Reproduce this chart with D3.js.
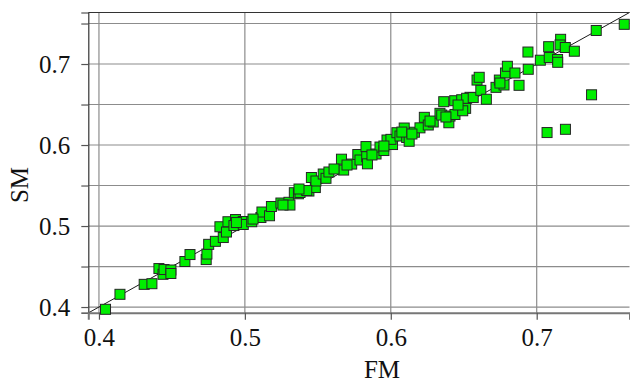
<!DOCTYPE html>
<html>
<head>
<meta charset="utf-8">
<script src="https://cdn.jsdelivr.net/npm/d3@7"></script>
<style>
  html, body { margin: 0; padding: 0; background: #fff; }
  svg { display: block; }
  text { font-family: "Liberation Serif", "Times New Roman", serif; fill: #111; }
</style>
</head>
<body>
<svg id="chart" width="630" height="383"></svg>
<script>
// FM vs SM measurements
const fm = [
  0.4045, 0.4144, 0.4310, 0.4363, 0.4411, 0.4439, 0.4446, 0.4493, 0.4493, 0.4589,
  0.4624, 0.4735, 0.4740, 0.4752, 0.4798, 0.4852, 0.4829, 0.4874, 0.4884, 0.4936,
  0.4925, 0.4989, 0.4989, 0.5047, 0.5110, 0.5117, 0.5169, 0.5182, 0.5247, 0.5302,
  0.5309, 0.5339, 0.5367, 0.5439, 0.5483, 0.5456, 0.5487, 0.5378, 0.5424, 0.5537,
  0.5556, 0.5576, 0.5662, 0.5677, 0.5732, 0.5774, 0.5789, 0.5830, 0.5835, 0.5840,
  0.5899, 0.5926, 0.5953, 0.5974, 0.6012, 0.6001, 0.6042, 0.6063, 0.6092, 0.6109,
  0.6126, 0.6162, 0.6200, 0.6230, 0.6257, 0.6291, 0.6337, 0.6349, 0.6363, 0.6398,
  0.6406, 0.6440, 0.6438, 0.6486, 0.6543, 0.6513, 0.6493, 0.6520, 0.6565, 0.6591,
  0.6606, 0.6617, 0.6655, 0.6721, 0.6744, 0.6776, 0.6786, 0.6799, 0.6851, 0.6879,
  0.6942, 0.6940, 0.7025, 0.7082, 0.7086, 0.7143, 0.7144, 0.7164, 0.7160, 0.7196,
  0.7258, 0.7408, 0.7600, 0.7376, 0.7071, 0.7197, 0.4942, 0.5056, 0.5261, 0.5371,
  0.5611, 0.5700, 0.5871, 0.5953, 0.6076, 0.6145, 0.6269, 0.6378, 0.6461, 0.6748
];
const sm = [
  0.3972, 0.4157, 0.4280, 0.4288, 0.4475, 0.4404, 0.4463, 0.4457, 0.4414, 0.4562,
  0.4648, 0.4586, 0.4654, 0.4774, 0.4811, 0.4858, 0.4991, 0.4926, 0.5053, 0.5080,
  0.5006, 0.5056, 0.5019, 0.5053, 0.5105, 0.5173, 0.5127, 0.5241, 0.5284, 0.5293,
  0.5259, 0.5411, 0.5398, 0.5432, 0.5475, 0.5599, 0.5556, 0.5414, 0.5438, 0.5642,
  0.5589, 0.5667, 0.5825, 0.5691, 0.5765, 0.5883, 0.5815, 0.5981, 0.5856, 0.5768,
  0.5889, 0.5975, 0.5932, 0.6062, 0.6006, 0.6070, 0.6152, 0.6111, 0.6210, 0.6093,
  0.6046, 0.6158, 0.6212, 0.6342, 0.6247, 0.6284, 0.6391, 0.6370, 0.6535, 0.6275,
  0.6358, 0.6377, 0.6547, 0.6559, 0.6589, 0.6453, 0.6423, 0.6577, 0.6586, 0.6802,
  0.6836, 0.6675, 0.6565, 0.6712, 0.6802, 0.6741, 0.6889, 0.6972, 0.6889, 0.6737,
  0.6935, 0.7148, 0.7047, 0.7214, 0.7080, 0.7056, 0.7021, 0.7305, 0.7235, 0.7204,
  0.7158, 0.7414, 0.7490, 0.6620, 0.6154, 0.6194, 0.5043, 0.5086, 0.5259, 0.5457,
  0.5704, 0.5753, 0.5877, 0.5988, 0.6160, 0.6136, 0.6296, 0.6346, 0.6494, 0.6765
];

const xTicks = [0.4, 0.5, 0.6, 0.7];
const yTicks = [0.4, 0.45, 0.5, 0.55, 0.6, 0.65, 0.7, 0.75];
const yLabelTicks = [0.4, 0.5, 0.6, 0.7];
const xTitle = "FM";
const yTitle = "SM";

const svg = d3.select("#chart");
const plotLeft = 88.3, plotRight = 629.5, plotTop = 12.5, plotBottom = 312.7;
const labelFont = "25px";

const x = d3.scaleLinear().domain([0.3927, 0.7636]).range([plotLeft, plotRight]);
const y = d3.scaleLinear().domain([0.3930, 0.7636]).range([plotBottom, plotTop]);

const gridColor = "#8c8c8c";

// horizontal grid lines
svg.append("g").selectAll("line").data(yTicks).join("line")
  .attr("x1", plotLeft).attr("x2", plotRight)
  .attr("y1", d => y(d)).attr("y2", d => y(d))
  .attr("stroke", gridColor).attr("stroke-width", 1.2);

// vertical grid lines
svg.append("g").selectAll("line").data(xTicks).join("line")
  .attr("y1", plotTop).attr("y2", plotBottom)
  .attr("x1", d => x(d)).attr("x2", d => x(d))
  .attr("stroke", gridColor).attr("stroke-width", 1.2);

// y = x reference line
const lo = Math.max(x.domain()[0], y.domain()[0]);
const hi = Math.min(x.domain()[1], y.domain()[1]);
svg.append("line")
  .attr("x1", x(lo)).attr("y1", y(lo))
  .attr("x2", x(hi)).attr("y2", y(hi))
  .attr("stroke", "#1a1a1a").attr("stroke-width", 1);

// left axis
const yAxis = d3.axisLeft(y).tickValues(yTicks).tickSizeOuter(0).tickSize(7).tickPadding(11)
  .tickFormat(d => yLabelTicks.some(t => Math.abs(t - d) < 1e-9) ? d3.format(".1f")(d) : "");
const gy = svg.append("g").attr("transform", `translate(${plotLeft},0)`).call(yAxis);
gy.attr("font-family", null);
gy.select(".domain").attr("stroke", "#333").attr("stroke-width", 1.2);
gy.selectAll(".tick line").attr("stroke", "#555").attr("stroke-width", 1.2);
gy.selectAll(".tick text").style("font-size", labelFont).attr("fill", "#111");

// bottom axis
const xAxis = d3.axisBottom(x).tickValues(xTicks).tickSizeOuter(0).tickSize(7).tickPadding(8.5)
  .tickFormat(d3.format(".1f"));
const gx = svg.append("g").attr("transform", `translate(0,${plotBottom})`).call(xAxis);
gx.attr("font-family", null);
gx.select(".domain").attr("stroke", "#777").attr("stroke-width", 2);
gx.selectAll(".tick line").attr("stroke", "#555").attr("stroke-width", 1.2);
gx.selectAll(".tick text").style("font-size", labelFont).attr("fill", "#111");

// top frame line
svg.append("line")
  .attr("x1", plotLeft).attr("x2", plotRight).attr("y1", plotTop).attr("y2", plotTop)
  .attr("stroke", "#333").attr("stroke-width", 1.2);

// points
const pts = fm.map((v, i) => ({ fm: v, sm: sm[i] }));
const s = 10;
svg.append("g").selectAll("rect").data(pts).join("rect")
  .attr("x", d => x(d.fm) - s / 2)
  .attr("y", d => y(d.sm) - s / 2)
  .attr("width", s).attr("height", s)
  .attr("fill", "#00ee00")
  .attr("stroke", "#262626").attr("stroke-width", 1);

// axis titles
svg.append("text")
  .attr("x", 382).attr("y", 378)
  .attr("text-anchor", "middle")
  .style("font-size", labelFont)
  .text(xTitle);

svg.append("text")
  .attr("transform", "translate(28,185) rotate(-90)")
  .attr("text-anchor", "middle")
  .style("font-size", labelFont)
  .text(yTitle);
</script>
</body>
</html>
